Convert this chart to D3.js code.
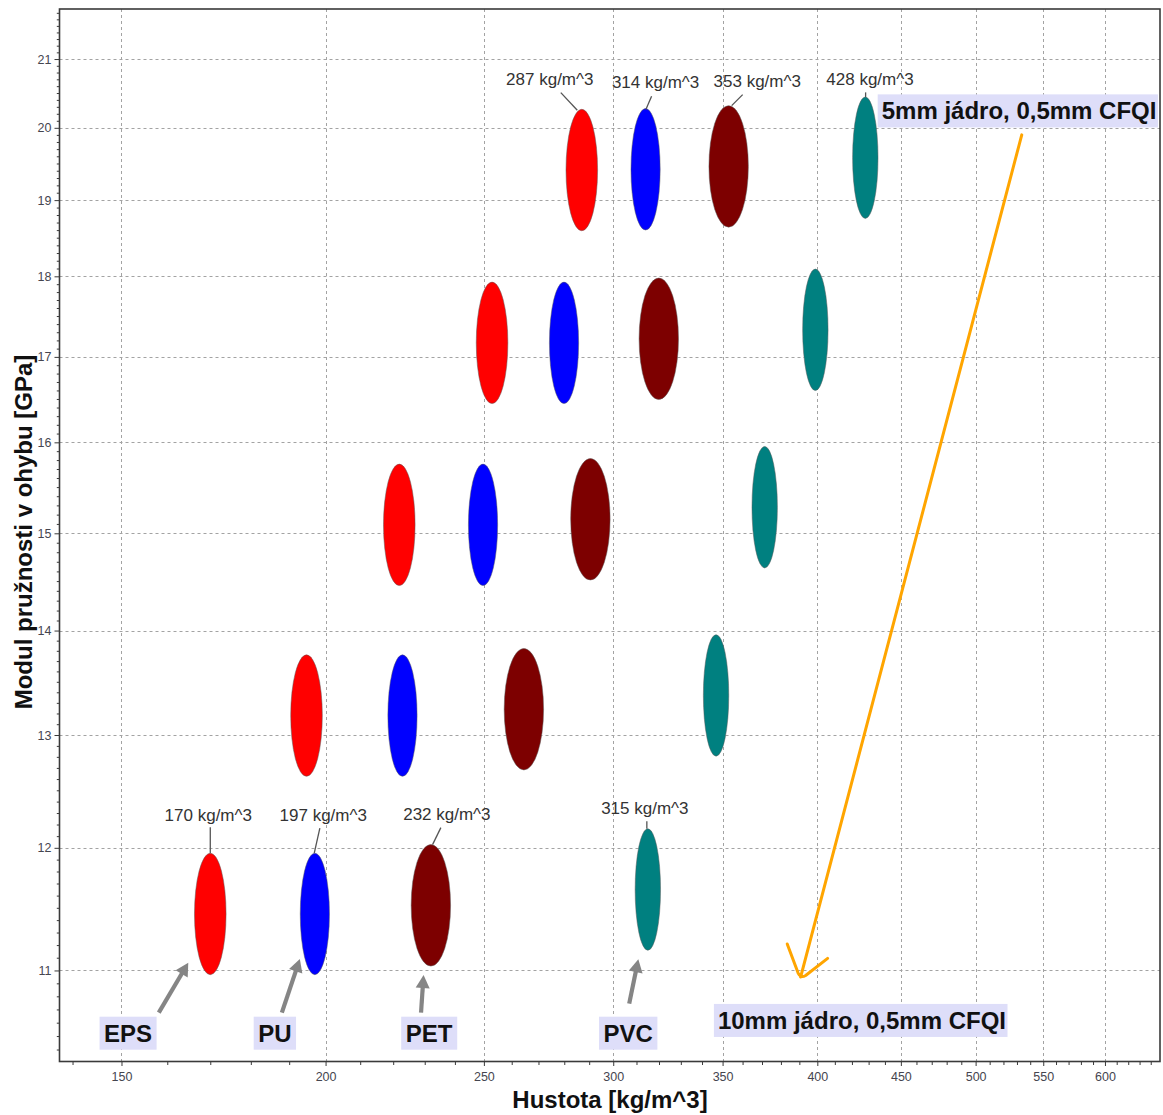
<!DOCTYPE html>
<html>
<head>
<meta charset="utf-8">
<script src="https://cdn.jsdelivr.net/npm/d3@7"></script>
<style>
  body { margin: 0; background: #fff; }
  svg { display: block; }
  text { font-family: "Liberation Sans", Arial, sans-serif; }
</style>
</head>
<body>
<svg id="chart" width="1163" height="1115"></svg>
<script>
// ---- data -------------------------------------------------------------
const materials = ["EPS", "PU", "PET", "PVC"];

// Rows run from the 10 mm core (index 0, bottom) to the 5 mm core (index 4, top)
const densityEPS = [170, 194.7, 221.9, 252.9, 287];
const densityPU  = [197, 222.9, 249.7, 279.9, 314];
const densityPET = [232, 264.5, 290.5, 319.9, 353];
const densityPVC = [315, 346.8, 371.4, 398.9, 428];

const modulusEPS = [11.45, 13.18, 15.09, 17.17, 19.41];
const modulusPU  = [11.45, 13.18, 15.09, 17.17, 19.42];
const modulusPET = [11.52, 13.24, 15.15, 17.22, 19.46];
const modulusPVC = [11.65, 13.37, 15.28, 17.33, 19.58];

// rows whose density is printed above each ellipse
const labeledRows = [0, 4];

const xTickValues = [150, 200, 250, 300, 350, 400, 450, 500, 550, 600];
const yTickValues = [11, 12, 13, 14, 15, 16, 17, 18, 19, 20, 21];

const coreNotes = ["10mm jádro, 0,5mm CFQI", "5mm jádro, 0,5mm CFQI"];
const xTitle = "Hustota [kg/m^3]";
const yTitle = "Modul pružnosti v ohybu [GPa]";

// ---- styling ----------------------------------------------------------
const colors = ["#ff0000", "#0000ff", "#7d0000", "#008080"];
const ellipseRx = [15.8, 14.6, 19.7, 12.7];
const ellipseRy = 60.75;

const plot = { left: 59.5, right: 1160, top: 9, bottom: 1061.5 };

const x = d3.scaleLog().domain([137.45, 648.4]).range([plot.left, plot.right]);
const y = d3.scaleLog().domain([10.312, 21.759]).range([plot.bottom, plot.top]);

const svg = d3.select("#chart");
svg.append("rect").attr("width", 1163).attr("height", 1115).attr("fill", "#fff");

// ---- grid -------------------------------------------------------------
const grid = svg.append("g").attr("stroke", "#a3a3a3").attr("stroke-width", 1)
  .attr("stroke-dasharray", "3,3");
grid.selectAll("line.v").data(xTickValues).join("line")
  .attr("x1", d => Math.round(x(d)) + 0.5).attr("x2", d => Math.round(x(d)) + 0.5)
  .attr("y1", plot.top).attr("y2", plot.bottom);
grid.selectAll("line.h").data(yTickValues).join("line")
  .attr("y1", d => Math.round(y(d)) + 0.5).attr("y2", d => Math.round(y(d)) + 0.5)
  .attr("x1", plot.left).attr("x2", plot.right);

// ---- axes -------------------------------------------------------------
const xMinor = d3.range(140, 650, 10).filter(v => !xTickValues.includes(v));
const yMinor = d3.range(104, 218, 1).map(v => v / 10).filter(v => !yTickValues.includes(v));

const tickColor = "#3a3a3a";
svg.append("g").attr("transform", `translate(0,${plot.bottom})`)
  .call(d3.axisBottom(x).tickValues(xTickValues).tickFormat(d3.format("d"))
    .tickSize(4.5).tickPadding(6));
svg.append("g").attr("transform", `translate(0,${plot.bottom})`)
  .call(d3.axisBottom(x).tickValues(xMinor).tickFormat("").tickSize(3.5));

svg.append("g").attr("transform", `translate(${plot.left},0)`)
  .call(d3.axisLeft(y).tickValues(yTickValues).tickFormat(d3.format("d"))
    .tickSize(5).tickPadding(3));
svg.append("g").attr("transform", `translate(${plot.left},0)`)
  .call(d3.axisLeft(y).tickValues(yMinor).tickFormat("").tickSize(2.7));

svg.selectAll(".domain").remove();
svg.selectAll(".tick line").attr("stroke", tickColor).attr("stroke-width", 1);
svg.selectAll(".tick text").attr("fill", "#45454f").attr("font-size", 12.5)
  .attr("font-family", "\"Liberation Sans\", Arial, sans-serif");

// plot frame
svg.append("rect")
  .attr("x", plot.left).attr("y", plot.top)
  .attr("width", plot.right - plot.left).attr("height", plot.bottom - plot.top)
  .attr("fill", "none").attr("stroke", "#3a3a3a").attr("stroke-width", 1.6);

// axis titles
svg.append("text").attr("x", 610).attr("y", 1108).attr("text-anchor", "middle")
  .attr("font-weight", "bold").attr("font-size", 24).attr("fill", "#111")
  .text(xTitle);
svg.append("text").attr("transform", "translate(32,532) rotate(-90)")
  .attr("text-anchor", "middle").attr("font-weight", "bold").attr("font-size", 24)
  .attr("fill", "#111").text(yTitle);

// ---- ellipses ---------------------------------------------------------
const densities = [densityEPS, densityPU, densityPET, densityPVC];
const moduli = [modulusEPS, modulusPU, modulusPET, modulusPVC];
const points = materials.flatMap((m, i) => densities[i].map((d, r) => ({
  material: m, mi: i, row: r, density: d, modulus: moduli[i][r]
})));

svg.append("g").selectAll("ellipse").data(points).join("ellipse")
  .attr("cx", d => x(d.density)).attr("cy", d => y(d.modulus))
  .attr("rx", d => ellipseRx[d.mi]).attr("ry", ellipseRy)
  .attr("fill", d => colors[d.mi])
  .attr("stroke", "rgba(90,90,90,0.55)").attr("stroke-width", 0.9);

// ---- density labels with leader lines ---------------------------------
// offsets relative to the top of each ellipse: text anchor, leader start, leader end
const labelLayout = {
  "0-0": { tx: -2,   ty: -32.6, a: [0, -26],     b: [0, 0] },
  "1-0": { tx: 8.4,  ty: -32.6, a: [5, -25],     b: [-0.6, 0] },
  "2-0": { tx: 16,   ty: -24.3, a: [10, -17],    b: [1.7, 0] },
  "3-0": { tx: -3,   ty: -15,   a: [-1, -7.5],   b: [-1, 0] },
  "0-4": { tx: -32,  ty: -24.5, a: [-21, -16.6], b: [-4.5, 1] },
  "1-4": { tx: 10,   ty: -21,   a: [6, -12.3],   b: [0.3, 1] },
  "2-4": { tx: 28.6, ty: -19,   a: [14, -11],    b: [3, 0] },
  "3-4": { tx: 4.7,  ty: -12.3, a: [0.3, -4.6],  b: [0.3, 0] }
};
const labeled = points.filter(p => labeledRows.includes(p.row));
const lab = svg.append("g");
labeled.forEach(p => {
  const L = labelLayout[`${p.mi}-${p.row}`];
  const cx = x(p.density), top = y(p.modulus) - ellipseRy;
  lab.append("line")
    .attr("x1", cx + L.a[0]).attr("y1", top + L.a[1])
    .attr("x2", cx + L.b[0]).attr("y2", top + L.b[1])
    .attr("stroke", "#555").attr("stroke-width", 1.3);
  lab.append("text").attr("x", cx + L.tx).attr("y", top + L.ty)
    .attr("text-anchor", "middle").attr("font-size", 17).attr("fill", "#333")
    .text(`${p.density} kg/m^3`);
});

// ---- material tags with grey arrows -----------------------------------
const tagDensity = [151.4, 186.2, 231.4, 306.4];
const tagModulus = 10.458;
const tagTail = [[30.7, -4], [7, -4], [-8, -4], [1, -13]];      // from tag centre / box top
const tagTip = [[-22, -12], [-15, -15.7], [-7.3, 9], [-9.5, 9]]; // from ellipse bottom

function box(g, textSel, padL, padR) {
  const bb = textSel.node().getBBox();
  const base = +textSel.attr("y");
  g.insert("rect", "text")
    .attr("x", bb.x - padL).attr("y", base - 25)
    .attr("width", bb.width + padL + padR).attr("height", 33)
    .attr("fill", "#dedef9");
}

function arrow(g, x0, y0, x1, y1) {
  const dx = x1 - x0, dy = y1 - y0, len = Math.hypot(dx, dy);
  const ux = dx / len, uy = dy / len, head = 13, half = 7;
  const bx = x1 - ux * head, by = y1 - uy * head;
  g.append("line").attr("x1", x0).attr("y1", y0).attr("x2", bx + ux).attr("y2", by + uy)
    .attr("stroke", "#858585").attr("stroke-width", 4.2);
  g.append("path")
    .attr("d", `M${x1},${y1}L${bx - uy * half},${by + ux * half}L${bx + uy * half},${by - ux * half}Z`)
    .attr("fill", "#858585");
}

const tags = svg.append("g");
materials.forEach((m, i) => {
  const g = tags.append("g");
  const tx = x(tagDensity[i]), ty = y(tagModulus);
  const t = g.append("text").attr("x", tx).attr("y", ty).attr("text-anchor", "middle")
    .attr("font-weight", "bold").attr("font-size", 24).attr("fill", "#111").text(m);
  box(g, t, 4.5, 4.5);
  const p = points.find(q => q.mi === i && q.row === 0);
  const ex = x(p.density), eb = y(p.modulus) + ellipseRy;
  arrow(g, tx + tagTail[i][0], ty - 25 + tagTail[i][1], ex + tagTip[i][0], eb + tagTip[i][1]);
});

// ---- core thickness notes and orange trend arrow -----------------------
const noteAnchor = [[347.7, 10.553], [438.0, 20.12]];
coreNotes.forEach((n, i) => {
  const g = svg.append("g");
  const t = g.append("text").attr("x", x(noteAnchor[i][0])).attr("y", y(noteAnchor[i][1]))
    .attr("font-weight", "bold").attr("font-size", 24).attr("fill", "#111").text(n);
  box(g, t, 4, 1.5);
});

const trendFrom = [533.6, 19.90];
const trendTo = [390.7, 10.949];
const sx = x(trendFrom[0]), sy = y(trendFrom[1]);
const ex = x(trendTo[0]), ey = y(trendTo[1]);
const orange = svg.append("g").attr("fill", "none").attr("stroke", "#ffa500")
  .attr("stroke-width", 3).attr("stroke-linecap", "round").attr("stroke-linejoin", "round");
orange.append("line").attr("x1", sx).attr("y1", sy).attr("x2", ex).attr("y2", ey);
orange.append("path")
  .attr("d", `M${ex - 13.4},${ey - 33} L${ex - 2.5},${ey - 4} Q${ex},${ey + 1.5} ${ex + 5},${ey - 1.5} L${ex + 27},${ey - 18.7}`);
</script>
</body>
</html>
